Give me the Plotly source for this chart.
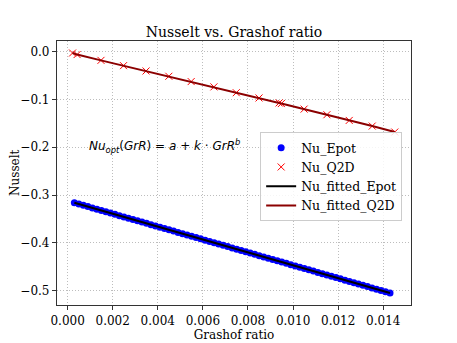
import plotly.graph_objects as go

# Nu_Epot data
gr_epot = [0.0003, 0.0005, 0.0007, 0.0009, 0.0011, 0.0013, 0.0015, 0.0017, 0.0019, 0.0021,
           0.0023, 0.0025, 0.0027, 0.0029, 0.0031, 0.0033, 0.0035, 0.0037, 0.0039, 0.0041,
           0.0043, 0.0045, 0.0047, 0.0049, 0.0051, 0.0053, 0.0055, 0.0057, 0.0059, 0.0061,
           0.0063, 0.0065, 0.0067, 0.0069, 0.0071, 0.0073, 0.0075, 0.0077, 0.0079, 0.0081,
           0.0083, 0.0085, 0.0087, 0.0089, 0.0091, 0.0093, 0.0095, 0.0097, 0.0099, 0.0101,
           0.0103, 0.0105, 0.0107, 0.0109, 0.0111, 0.0113, 0.0115, 0.0117, 0.0119, 0.0121,
           0.0123, 0.0125, 0.0127, 0.0129, 0.0131, 0.0133, 0.0135, 0.0137, 0.0139, 0.0141,
           0.0143]
nu_epot = [-0.3160, -0.3187, -0.3214, -0.3241, -0.3268, -0.3295, -0.3322, -0.3349, -0.3376, -0.3403,
           -0.3430, -0.3457, -0.3484, -0.3511, -0.3538, -0.3565, -0.3592, -0.3619, -0.3646, -0.3673,
           -0.3700, -0.3727, -0.3754, -0.3781, -0.3808, -0.3835, -0.3862, -0.3889, -0.3916, -0.3943,
           -0.3970, -0.3997, -0.4024, -0.4051, -0.4078, -0.4105, -0.4132, -0.4159, -0.4186, -0.4213,
           -0.4240, -0.4267, -0.4294, -0.4321, -0.4348, -0.4375, -0.4402, -0.4429, -0.4456, -0.4483,
           -0.4510, -0.4537, -0.4564, -0.4591, -0.4618, -0.4645, -0.4672, -0.4699, -0.4726, -0.4753,
           -0.4780, -0.4807, -0.4834, -0.4861, -0.4888, -0.4915, -0.4942, -0.4969, -0.4996, -0.5023,
           -0.5050]

# Nu_Q2D data
gr_q2d = [0.00022, 0.00042, 0.00148, 0.00248, 0.00348, 0.00449, 0.00548, 0.00649,
          0.00748, 0.00849, 0.00938, 0.00948, 0.01049, 0.0115, 0.01249, 0.01351, 0.01451]
nu_q2d = [-0.0027, -0.0060, -0.0181, -0.0292, -0.0403, -0.0514, -0.0625, -0.0736,
          -0.0858, -0.0968, -0.1072, -0.1085, -0.1201, -0.1319, -0.1438, -0.1556, -0.1681]

font = 'DejaVu Serif'

fig = go.Figure()
fig.add_trace(go.Scatter(x=gr_epot, y=nu_epot, name='Nu_Epot', mode='markers',
                         marker=dict(color='blue', size=7, symbol='circle')))
fig.add_trace(go.Scatter(x=gr_q2d, y=nu_q2d, name='Nu_Q2D', mode='markers',
                         marker=dict(color='red', size=7, symbol='x-thin',
                                     line=dict(color='red', width=1))))
fig.add_trace(go.Scatter(x=gr_epot, y=nu_epot, name='Nu_fitted_Epot', mode='lines',
                         line=dict(color='black', width=2)))
fig.add_trace(go.Scatter(x=gr_q2d, y=nu_q2d, name='Nu_fitted_Q2D', mode='lines',
                         line=dict(color='darkred', width=2)))

fig.add_annotation(x=0.00085, y=-0.197, xref='x', yref='y', xanchor='left', yanchor='middle',
                   text='<i>Nu</i><sub><i>opt</i></sub>(<i>GrR</i>) = <i>a</i> + <i>k</i> · <i>GrR</i><sup><i>b</i></sup>',
                   showarrow=False, font=dict(family='DejaVu Sans', size=12, color='black'))

# y axis label placed by hand
fig.add_annotation(x=-42 / 354, y=(305 - 173) / 264, xref='paper', yref='paper',
                   xanchor='center', yanchor='middle', text='Nusselt', showarrow=False,
                   textangle=-90, font=dict(family=font, size=12, color='black'))

axis_style = dict(showgrid=True, gridcolor='#bdbdbd', griddash='1px,2px', gridwidth=1,
                  showline=True, linecolor='#333333', linewidth=1.2, mirror=True,
                  ticks='outside', ticklen=4, tickcolor='#333333', zeroline=False,
                  automargin=False, tickfont=dict(family=font, size=12, color='black'))

fig.update_xaxes(range=[-0.00047, 0.01523], dtick=0.002, tick0=0, tickformat='.3f',
                 title=dict(text='Grashof ratio', font=dict(family=font, size=12, color='black'),
                            standoff=4), **axis_style)
fig.update_yaxes(range=[-0.530, 0.0224], dtick=0.1, tick0=0, tickformat='.1f', **axis_style)

# page body has an 8px margin, so the figure is a bit smaller than the window
fig.update_layout(
    width=449, height=335,
    margin=dict(l=49, r=46, t=33, b=38, autoexpand=False),
    paper_bgcolor='white', plot_bgcolor='white',
    title=dict(text='Nusselt vs. Grashof ratio', x=0.5, xanchor='center', xref='paper',
               y=1, yref='paper', yanchor='bottom', pad=dict(b=4),
               font=dict(family=font, size=14, color='black')),
    legend=dict(x=0.975, y=0.655, xanchor='right', yanchor='top', bgcolor='rgba(255,255,255,0.85)',
                bordercolor='#cccccc', borderwidth=1, font=dict(family=font, size=12.5, color='black'),
                itemwidth=30, tracegroupgap=0),
    showlegend=True,
)

fig.write_html('out.html')
